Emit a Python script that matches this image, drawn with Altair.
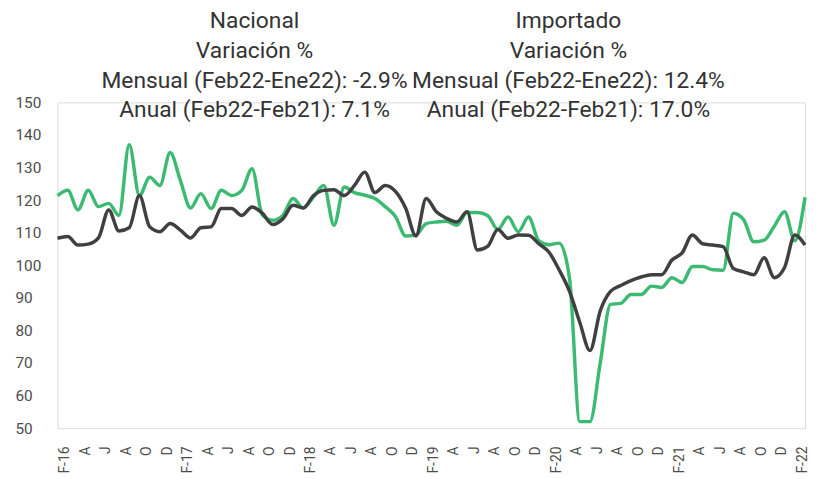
import altair as alt
import pandas as pd

# Jan-2016 .. Feb-2022 (74 months); axis labels shown every second month from Feb-16
importado = [121.4, 123.0, 117.0, 123.0, 118.0, 119.0, 115.3, 137.0, 121.4, 127.0,
             124.5, 134.6, 126.0, 117.6, 122.0, 117.4, 123.0, 121.4, 123.0, 129.6,
             115.5, 113.8, 115.3, 120.5, 117.6, 121.0, 124.5, 112.3, 124.0, 122.3,
             121.5, 120.5, 118.0, 115.0, 109.0, 109.3, 112.8, 113.3, 113.5, 112.3,
             116.2, 116.2, 115.3, 111.0, 114.8, 110.3, 114.8, 107.5, 106.3, 106.8,
             96.0, 52.0, 52.0, 70.0, 88.0, 88.3, 91.0, 91.0, 93.6, 93.2,
             96.2, 94.7, 99.6, 99.6, 98.6, 98.5, 116.0, 114.0, 107.2, 107.7,
             112.0, 116.4, 107.5, 120.9]

nacional = [108.3, 108.8, 106.2, 106.5, 108.4, 117.0, 110.5, 111.5, 121.4, 111.8,
            110.3, 112.8, 110.8, 108.4, 111.5, 111.8, 117.4, 117.4, 115.3, 117.9,
            116.0, 112.5, 114.2, 118.4, 117.6, 121.4, 123.0, 123.2, 121.4, 124.5,
            128.6, 122.3, 124.5, 122.7, 117.5, 109.0, 120.5, 116.4, 114.4, 113.3,
            116.4, 104.7, 105.8, 111.0, 108.3, 109.3, 109.2, 106.6, 104.0, 98.5,
            92.0, 82.5, 73.8, 86.0, 92.0, 93.8, 95.3, 96.4, 97.1, 97.1,
            101.6, 103.8, 109.3, 106.6, 106.2, 105.7, 99.0, 98.0, 97.1, 102.3,
            96.2, 99.3, 109.3, 106.2]

etiquetas_eje = ["F-16", "A", "J", "A", "O", "D",
                 "F-17", "A", "J", "A", "O", "D",
                 "F-18", "A", "J", "A", "O", "D",
                 "F-19", "A", "J", "A", "O", "D",
                 "F-20", "A", "J", "A", "O", "D",
                 "F-21", "A", "J", "A", "O", "D",
                 "F-22"]

titulo_nacional = ["Nacional", "Variación %",
                   "Mensual (Feb22-Ene22): -2.9%", "Anual (Feb22-Feb21): 7.1%"]
titulo_importado = ["Importado", "Variación %",
                    "Mensual (Feb22-Ene22): 12.4%", "Anual (Feb22-Feb21): 17.0%"]

n = len(nacional)
df = pd.DataFrame({"idx": list(range(n)), "nacional": nacional, "importado": importado})

tick_vals = list(range(1, n, 2))
label_expr = "[" + ",".join("'" + s + "'" for s in etiquetas_eje) + "][(datum.value - 1) / 2]"

FONT = "Roboto"
x_enc = alt.X("idx:Q",
              scale=alt.Scale(domain=[0, n - 1], nice=False, zero=False),
              axis=alt.Axis(values=tick_vals, labelExpr=label_expr, labelAngle=-90,
                            labelFont=FONT, labelFontSize=14, labelColor="#4d4d4d",
                            labelOffset=-3,
                            labelPadding=18, ticks=False, domain=False, grid=False,
                            title=None, labelOverlap=False, labelBound=False))
y_scale = alt.Scale(domain=[50, 150], nice=False, zero=False)
y_axis = alt.Axis(values=list(range(50, 151, 10)), labelFont=FONT, labelFontSize=15.5,
                  labelColor="#4d4d4d", labelAlign="left",
                  labelPadding=43, tickSize=0, ticks=False, domain=False, grid=False,
                  title=None)

base = alt.Chart(df)
green = base.mark_line(interpolate="monotone", strokeWidth=3.5, color="#3dba72").encode(
    x=x_enc, y=alt.Y("importado:Q", scale=y_scale, axis=y_axis))
dark = base.mark_line(interpolate="monotone", strokeWidth=3.5, color="#404040").encode(
    x=x_enc, y=alt.Y("nacional:Q", scale=y_scale, axis=y_axis))

layers = [green, dark]
line_y = [-82, -52, -22, 8]
for block, cx in ((titulo_nacional, 199), (titulo_importado, 516)):
    for txt, yy in zip(block, line_y):
        layers.append(
            alt.Chart(pd.DataFrame({"t": [txt]})).mark_text(
                font=FONT, fontSize=23, color="#333333",
                align="center", baseline="middle"
            ).encode(text="t:N", x=alt.value(cx), y=alt.value(yy))
        )

chart = alt.layer(*layers).properties(
    width=755, height=329,
    padding={"left": 50, "top": 93, "right": 4, "bottom": 47},
    autosize=alt.AutoSizeParams(type="none"),
).configure_view(stroke=None).configure(background="white")

chart.save("out.html", embed_options={"renderer": "svg", "actions": False})
